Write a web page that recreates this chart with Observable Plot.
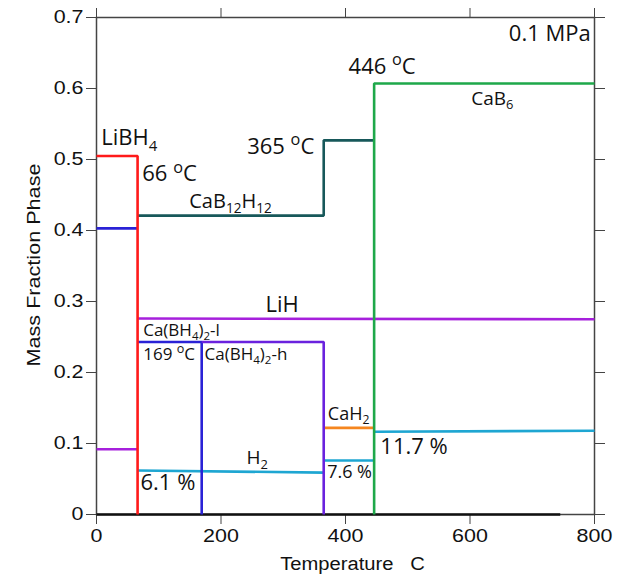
<!DOCTYPE html>
<html><head><meta charset="utf-8">
<script src="https://cdn.jsdelivr.net/npm/d3@7"></script>
<script src="https://cdn.jsdelivr.net/npm/@observablehq/plot@0.6"></script>
<style>body{margin:0;background:#fff} #chart svg{overflow:visible}</style>
</head><body><div id="chart"></div>
<script>
// ---- tick values ----
const xTicks = [0, 200, 400, 600, 800];
const yTicks = [0, 0.1, 0.2, 0.3, 0.4, 0.5, 0.6, 0.7];

// ---- phase curves: [temperature °C, mass fraction] ----
const baseline   = [[0, 0], [745, 0]];
const LiBH4      = [[0, 0.505], [66, 0.505], [66, 0]];
const CaBH4_lowT = [[0, 0.403], [66, 0.403]];
const LiH_lowT   = [[0, 0.092], [66, 0.092]];
const CaB12H12   = [[66, 0.421], [365, 0.421], [365, 0.527], [446, 0.527]];
const LiH        = [[66, 0.276], [800, 0.275]];
const CaBH4_l    = [[66, 0.243], [169, 0.243], [169, 0]];
const CaBH4_h    = [[169, 0.243], [365, 0.243], [365, 0]];
const H2_a       = [[66, 0.062], [365, 0.059]];
const H2_b       = [[365, 0.076], [446, 0.076]];
const H2_c       = [[446, 0.1165], [800, 0.118]];
const CaH2       = [[365, 0.122], [446, 0.122]];
const CaB6       = [[446, 0], [446, 0.607], [800, 0.607]];

// ---- annotations ----
const labelText = ["0.1 MPa", "446 ^{o}C", "CaB_{6}", "LiBH_{4}", "66 ^{o}C", "365 ^{o}C",
  "CaB_{12}H_{12}", "LiH", "Ca(BH_{4})_{2}-l", "169 ^{o}C", "Ca(BH_{4})_{2}-h", "H_{2}",
  "6.1 %", "CaH_{2}", "7.6 %", "11.7 %"];
const labelT = [794, 405, 602, 7.5, 73.5, 242, 149, 271.5, 75, 75, 173.5, 241, 70.7, 371.6, 370.5, 456];
const labelF = [0.677, 0.630, 0.586, 0.530, 0.479, 0.518, 0.441, 0.295, 0.259, 0.225, 0.225, 0.0796, 0.045, 0.141, 0.0596, 0.0958];

// ---- styling ----
const palette = {
  black: "#111111", red: "#ff1a1a", blue: "#2a22d6", violet: "#6a22de", purple: "#a620dc",
  teal: "#17585a", cyan: "#1ea6d2", orange: "#f5861f", green: "#1ea84a"
};
const series = [
  {pts: baseline, c: palette.black},
  {pts: CaBH4_lowT, c: palette.blue},
  {pts: LiH_lowT, c: palette.purple},
  {pts: LiH, c: palette.purple},
  {pts: CaB12H12, c: palette.teal},
  {pts: H2_a, c: palette.cyan},
  {pts: H2_b, c: palette.cyan},
  {pts: H2_c, c: palette.cyan},
  {pts: CaH2, c: palette.orange},
  {pts: CaBH4_l, c: palette.blue},
  {pts: CaBH4_h, c: palette.violet},
  {pts: LiBH4, c: palette.red},
  {pts: CaB6, c: palette.green}
];
const labelSize = [22, 22, 19, 22, 22, 22, 20, 22, 17, 17, 17, 19, 22, 18, 18, 22];
const labels = labelText.map((t, i) => ({t, x: labelT[i], y: labelF[i], s: labelSize[i], a: i === 0 ? "end" : "start"}));

const yFmt = d => d === 0 ? "0" : d.toFixed(1);
const axisColor = "#444";

const plot = Plot.plot({
  width: 619, height: 578,
  marginLeft: 96, marginRight: 25, marginTop: 17, marginBottom: 64,
  style: {fontFamily: "Liberation Sans, Arial, sans-serif", fontSize: "18.5px", color: "#111", background: "#fff"},
  x: {domain: [0, 800]},
  y: {domain: [0, 0.7]},
  marks: [
    Plot.axisX({anchor: "bottom", ticks: xTicks, tickSize: 10, tickPadding: 4, label: null, stroke: axisColor, fill: "#111"}),
    Plot.axisX({anchor: "top", ticks: xTicks, tickSize: 10, tickFormat: () => "", label: null, stroke: axisColor}),
    Plot.axisY({anchor: "left", ticks: yTicks, tickSize: 10, tickPadding: 3, tickFormat: yFmt, label: null, stroke: axisColor, fill: "#111"}),
    Plot.axisY({anchor: "right", ticks: yTicks, tickSize: 10, tickFormat: () => "", label: null, stroke: axisColor}),
    Plot.frame({stroke: axisColor, strokeWidth: 1.5}),
    ...series.map(s => Plot.line(s.pts, {x: d => d[0], y: d => d[1], stroke: s.c, strokeWidth: 2.6, strokeLinejoin: "miter", strokeLinecap: "butt"})),
    Plot.text(labels, {x: "x", y: "y", text: "t", fontSize: "s", textAnchor: "start", fill: "#111",
      fontFamily: "Open Sans", className: "ann", filter: d => d.a === "start"}),
    Plot.text(labels, {x: "x", y: "y", text: "t", fontSize: "s", textAnchor: "end", fill: "#111",
      fontFamily: "Open Sans", className: "ann", filter: d => d.a === "end"}),
    Plot.text(["Temperature\u00a0\u00a0\u00a0C"], {frameAnchor: "bottom", textAnchor: "middle", dx: 7, dy: 55, fontSize: 18, fill: "#111", className: "axlab-x"}),
    Plot.text(["Mass Fraction Phase"], {frameAnchor: "left", textAnchor: "middle", rotate: -90, dx: -62, dy: -1, fontSize: 18, fill: "#111", className: "axlab-y"})
  ]
});
document.getElementById("chart").appendChild(plot);

// ---- rich text (sub/superscripts) ----
const NS = "http://www.w3.org/2000/svg";
function richify(el) {
  const s = el.textContent;
  if (!/[_^]\{/.test(s)) return;
  const fs = parseFloat(getComputedStyle(el).fontSize);
  el.textContent = "";
  let shift = 0;
  const add = (txt, kind) => {
    if (!txt) return;
    const t = document.createElementNS(NS, "tspan");
    t.textContent = txt;
    const target = kind === "_" ? 0.24 * fs : kind === "^" ? -0.40 * fs : 0;
    const dy = target - shift;
    if (dy) t.setAttribute("dy", dy.toFixed(2));
    shift = target;
    if (kind) t.setAttribute("font-size", ((kind === "^" ? 0.74 : 0.68) * fs).toFixed(2));
    el.appendChild(t);
  };
  const re = /([_^])\{([^}]*)\}/g;
  let last = 0, m;
  while ((m = re.exec(s))) {
    add(s.slice(last, m.index), null);
    add(m[2], m[1]);
    last = re.lastIndex;
  }
  add(s.slice(last), null);
}
plot.querySelectorAll(".ann text").forEach(richify);

// ---- horizontal stretch to match the reference's wide lettering ----
function stretch(el, f) {
  const len = el.getComputedTextLength();
  if (len > 0) { el.setAttribute("textLength", (len * f).toFixed(2)); el.setAttribute("lengthAdjust", "spacingAndGlyphs"); }
}
plot.querySelectorAll('g[aria-label$="tick label"] text').forEach(el => stretch(el, 1.16));
plot.querySelectorAll(".axlab-x text").forEach(el => stretch(el, 1.12));
plot.querySelectorAll(".axlab-y text").forEach(el => stretch(el, 1.2));
</script>
</body></html>
